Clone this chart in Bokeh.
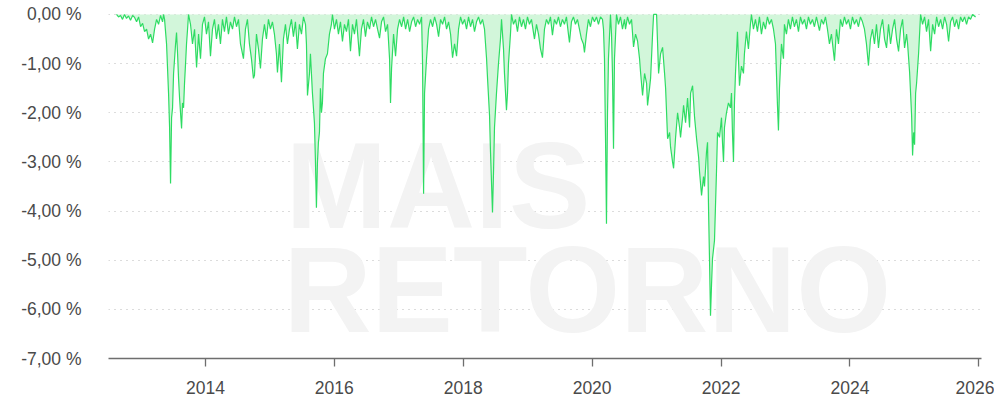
import pandas as pd
from bokeh.plotting import figure
from bokeh.models import Range1d, FixedTicker, CustomJSTickFormatter, ColumnDataSource
from bokeh.core.properties import value
from bokeh.embed import file_html
from bokeh.resources import INLINE

# decimal-year dates and drawdown values (%)
dates = [
    2012.619, 2012.650, 2012.681, 2012.712, 2012.743, 2012.774, 2012.805, 2012.836, 2012.868, 2012.899,
    2012.930, 2012.961, 2012.992, 2013.023, 2013.054, 2013.085, 2013.116, 2013.147, 2013.178, 2013.209,
    2013.240, 2013.271, 2013.302, 2013.333, 2013.348, 2013.364, 2013.395, 2013.426, 2013.442, 2013.457,
    2013.473, 2013.488, 2013.504, 2013.535, 2013.550, 2013.566, 2013.581, 2013.597, 2013.612, 2013.628,
    2013.643, 2013.659, 2013.674, 2013.690, 2013.705, 2013.721, 2013.736, 2013.767, 2013.798, 2013.830,
    2013.861, 2013.892, 2013.922, 2013.953, 2013.984, 2014.015, 2014.046, 2014.077, 2014.108, 2014.139,
    2014.170, 2014.201, 2014.232, 2014.263, 2014.294, 2014.325, 2014.356, 2014.387, 2014.419, 2014.450,
    2014.481, 2014.512, 2014.543, 2014.589, 2014.620, 2014.651, 2014.682, 2014.713, 2014.744, 2014.760,
    2014.791, 2014.822, 2014.853, 2014.884, 2014.915, 2014.946, 2014.977, 2015.008, 2015.039, 2015.070,
    2015.101, 2015.117, 2015.148, 2015.179, 2015.210, 2015.241, 2015.272, 2015.303, 2015.334, 2015.365,
    2015.396, 2015.427, 2015.458, 2015.490, 2015.521, 2015.552, 2015.567, 2015.583, 2015.614, 2015.629,
    2015.660, 2015.691, 2015.707, 2015.722, 2015.738, 2015.753, 2015.769, 2015.784, 2015.800, 2015.815,
    2015.831, 2015.862, 2015.893, 2015.924, 2015.955, 2015.971, 2016.002, 2016.033, 2016.064, 2016.095,
    2016.126, 2016.157, 2016.188, 2016.219, 2016.250, 2016.281, 2016.312, 2016.343, 2016.389, 2016.420,
    2016.451, 2016.482, 2016.513, 2016.545, 2016.576, 2016.607, 2016.638, 2016.669, 2016.700, 2016.731,
    2016.762, 2016.793, 2016.824, 2016.855, 2016.870, 2016.886, 2016.917, 2016.948, 2016.979, 2017.010,
    2017.042, 2017.073, 2017.104, 2017.135, 2017.166, 2017.197, 2017.228, 2017.259, 2017.290, 2017.321,
    2017.352, 2017.367, 2017.383, 2017.398, 2017.429, 2017.460, 2017.491, 2017.523, 2017.554, 2017.585,
    2017.616, 2017.647, 2017.678, 2017.709, 2017.740, 2017.771, 2017.802, 2017.833, 2017.864, 2017.895,
    2017.926, 2017.957, 2017.988, 2018.019, 2018.050, 2018.081, 2018.112, 2018.143, 2018.174, 2018.205,
    2018.236, 2018.267, 2018.298, 2018.329, 2018.360, 2018.376, 2018.407, 2018.422, 2018.453, 2018.469,
    2018.484, 2018.515, 2018.546, 2018.577, 2018.593, 2018.624, 2018.639, 2018.670, 2018.686, 2018.701,
    2018.732, 2018.748, 2018.779, 2018.810, 2018.841, 2018.872, 2018.903, 2018.934, 2018.965, 2018.996,
    2019.027, 2019.058, 2019.105, 2019.136, 2019.167, 2019.198, 2019.229, 2019.260, 2019.291, 2019.322,
    2019.353, 2019.384, 2019.415, 2019.446, 2019.477, 2019.508, 2019.539, 2019.570, 2019.601, 2019.632,
    2019.648, 2019.679, 2019.710, 2019.741, 2019.772, 2019.803, 2019.834, 2019.865, 2019.881, 2019.912,
    2019.943, 2019.974, 2020.005, 2020.036, 2020.067, 2020.098, 2020.129, 2020.160, 2020.176, 2020.191,
    2020.207, 2020.222, 2020.238, 2020.253, 2020.284, 2020.300, 2020.315, 2020.331, 2020.346, 2020.377,
    2020.408, 2020.439, 2020.470, 2020.501, 2020.517, 2020.548, 2020.579, 2020.610, 2020.641, 2020.672,
    2020.703, 2020.734, 2020.750, 2020.781, 2020.812, 2020.843, 2020.858, 2020.889, 2020.905, 2020.936,
    2020.952, 2020.998, 2021.029, 2021.060, 2021.091, 2021.122, 2021.138, 2021.169, 2021.200, 2021.215,
    2021.246, 2021.262, 2021.293, 2021.324, 2021.355, 2021.370, 2021.401, 2021.417, 2021.448, 2021.479,
    2021.510, 2021.526, 2021.557, 2021.588, 2021.619, 2021.650, 2021.665, 2021.696, 2021.727, 2021.742,
    2021.773, 2021.789, 2021.804, 2021.820, 2021.835, 2021.851, 2021.866, 2021.897, 2021.928, 2021.944,
    2021.975, 2022.006, 2022.021, 2022.037, 2022.052, 2022.083, 2022.114, 2022.145, 2022.161, 2022.176,
    2022.192, 2022.207, 2022.223, 2022.254, 2022.269, 2022.285, 2022.316, 2022.347, 2022.362, 2022.393,
    2022.424, 2022.455, 2022.471, 2022.502, 2022.533, 2022.564, 2022.595, 2022.626, 2022.657, 2022.688,
    2022.719, 2022.750, 2022.781, 2022.813, 2022.844, 2022.859, 2022.875, 2022.890, 2022.906, 2022.937,
    2022.968, 2022.983, 2023.014, 2023.045, 2023.076, 2023.107, 2023.138, 2023.169, 2023.201, 2023.232,
    2023.263, 2023.294, 2023.325, 2023.356, 2023.387, 2023.418, 2023.449, 2023.480, 2023.527, 2023.558,
    2023.589, 2023.620, 2023.651, 2023.682, 2023.713, 2023.760, 2023.791, 2023.822, 2023.853, 2023.884,
    2023.915, 2023.946, 2023.977, 2024.008, 2024.039, 2024.070, 2024.101, 2024.132, 2024.163, 2024.194,
    2024.225, 2024.256, 2024.287, 2024.318, 2024.349, 2024.380, 2024.411, 2024.442, 2024.473, 2024.505,
    2024.536, 2024.567, 2024.598, 2024.629, 2024.660, 2024.691, 2024.722, 2024.753, 2024.784, 2024.815,
    2024.846, 2024.877, 2024.893, 2024.924, 2024.955, 2024.970, 2024.986, 2025.001, 2025.017, 2025.032,
    2025.063, 2025.094, 2025.125, 2025.156, 2025.187, 2025.218, 2025.250, 2025.281, 2025.312, 2025.343,
    2025.374, 2025.405, 2025.436, 2025.467, 2025.498, 2025.529, 2025.560, 2025.591, 2025.622, 2025.653,
    2025.684, 2025.715, 2025.746, 2025.777, 2025.808, 2025.839, 2025.870, 2025.901, 2025.948,
]

drawdown = [
    0.00, -0.05, -0.02, -0.10, 0.00, -0.08, -0.03, -0.12, -0.02, -0.06,
    -0.15, -0.05, -0.25, -0.18, -0.35, -0.30, -0.50, -0.40, -0.58, -0.30,
    -0.10, -0.20, -0.02, -0.15, 0.00, -0.10, -0.60, -1.60, -2.30, -3.44,
    -2.10, -1.90, -1.20, -0.60, -0.37, -0.80, -1.30, -1.70, -2.00, -2.32,
    -1.80, -1.90, -1.40, -1.00, -0.60, -0.30, 0.00, -0.20, -0.60, -0.30,
    -1.08, -0.40, -0.90, -0.20, -0.05, -0.40, -0.15, -0.85, -0.30, -0.10,
    -0.50, -0.20, -0.60, -0.10, -0.35, -0.05, -0.40, -0.15, -0.30, -0.05,
    -0.25, -0.10, -0.60, -0.90, -0.30, -0.10, -0.60, -0.90, -1.30, -1.24,
    -0.40, -0.70, -1.10, -0.50, -0.20, -0.50, -0.10, -0.30, -0.15, -0.40,
    -0.80, -1.18, -0.60, -1.38, -0.50, -0.20, -0.60, -0.30, -0.10, -0.45,
    -0.15, -0.70, -0.20, -0.40, -0.05, -0.20, -0.60, -1.65, -1.20, -0.80,
    -1.60, -2.20, -3.00, -3.93, -3.00, -2.60, -2.40, -1.50, -2.00, -1.80,
    -1.20, -0.90, -0.80, -0.40, -0.20, 0.00, -0.30, -0.10, -0.40, -0.15,
    -0.55, -0.20, -0.35, -0.10, -0.75, -0.20, -0.40, -0.10, -0.85, -0.30,
    -0.10, -0.45, -0.15, -0.30, -0.05, -0.25, -0.10, -0.30, -0.48, -0.15,
    -0.05, -0.35, -0.20, -0.90, -1.80, -1.10, -0.40, -0.85, -0.30, -0.10,
    -0.25, -0.05, -0.30, -0.10, -0.35, -0.15, -0.05, -0.25, -0.10, -0.20,
    -0.05, -1.00, -3.65, -1.60, -0.90, -0.30, -0.10, -0.25, -0.05, -0.20,
    -0.45, -0.10, -0.20, -0.05, -0.30, -0.15, -0.40, -0.88, -0.60, -0.85,
    -0.30, -0.05, -0.20, -0.10, -0.30, -0.05, -0.25, -0.10, -0.35, -0.15,
    -0.05, -0.20, -0.10, -0.30, -0.88, -1.30, -2.05, -2.80, -4.03, -3.20,
    -2.30, -1.60, -1.00, -0.50, -0.10, -0.70, -1.20, -1.95, -1.60, -1.00,
    -0.40, 0.00, -0.20, -0.10, -0.35, -0.05, -0.25, -0.10, -0.30, -0.05,
    -0.20, -0.10, -0.50, -0.20, -0.40, -0.70, -0.88, -0.30, -0.10, -0.20,
    -0.05, -0.42, -0.10, -0.20, -0.05, -0.25, -0.10, -0.20, -0.05, -0.40,
    -0.57, -0.15, -0.05, -0.20, -0.10, -0.30, -0.50, -0.60, -0.77, -0.40,
    -0.10, -0.25, -0.05, -0.15, -0.05, -0.20, -0.05, -0.10, -0.30, -0.90,
    -2.50, -4.26, -2.00, -0.90, 0.00, -0.40, -1.20, -2.73, -0.90, 0.00,
    -0.20, -0.05, -0.30, -0.10, -0.30, -0.05, -0.20, -0.10, -0.66, -0.40,
    -0.54, -0.90, -1.18, -1.65, -1.20, -1.40, -1.85, -1.50, -1.30, -0.40,
    0.00, 0.00, -1.20, -0.80, -0.67, -1.20, -1.50, -2.53, -2.40, -2.70,
    -3.00, -3.13, -2.50, -2.00, -2.30, -2.50, -2.10, -1.85, -2.20, -1.70,
    -2.30, -1.60, -1.45, -2.10, -2.53, -2.90, -3.20, -3.68, -3.30, -3.50,
    -2.80, -2.60, -3.90, -5.00, -6.13, -5.50, -4.97, -4.60, -3.20, -2.40,
    -2.50, -2.10, -2.60, -3.00, -2.30, -2.00, -1.80, -1.90, -1.60, -2.40,
    -3.00, -1.80, -1.20, -0.35, -0.90, -1.45, -1.05, -1.20, -0.80, -0.35,
    -0.70, -0.20, 0.00, -0.30, -0.10, -0.35, -0.05, -0.40, -0.15, -0.30,
    -0.05, -0.20, -0.10, -0.30, -0.60, -1.20, -1.85, -2.36, -1.50, -0.60,
    -0.90, -0.20, -0.40, -0.10, -0.30, -0.05, -0.25, -0.10, -0.35, -0.05,
    -0.20, -0.10, -0.30, -0.05, -0.20, -0.10, -0.25, -0.05, -0.33, -0.10,
    -0.20, -0.05, -0.30, -0.60, -0.40, -0.94, -0.30, -0.60, -0.10, -0.25,
    -0.05, -0.20, -0.10, -0.30, -0.05, -0.20, -0.10, -0.25, -0.05, -0.15,
    -0.30, -0.60, -1.04, -0.50, -0.30, -0.60, -0.20, -0.68, -0.30, -0.10,
    -0.50, -0.68, -0.20, -0.60, -0.30, -0.10, -0.50, -0.75, -0.30, -0.10,
    -0.68, -0.40, -0.60, -1.18, -2.06, -2.87, -2.40, -2.65, -1.60, -1.40,
    -0.80, 0.00, -0.20, -0.05, -0.35, -0.10, -0.75, -0.20, -0.40, -0.05,
    -0.25, -0.10, -0.30, -0.05, -0.20, -0.55, -0.15, -0.05, -0.25, -0.10,
    -0.30, -0.05, -0.15, -0.05, -0.20, -0.05, -0.10, 0.00, -0.05,
]

y_ticks = [0, -1, -2, -3, -4, -5, -6, -7]
x_tick_years = [2014, 2016, 2018, 2020, 2022, 2024, 2026]


def to_dt(y):
    yr = int(y)
    start = pd.Timestamp(year=yr, month=1, day=1)
    end = pd.Timestamp(year=yr + 1, month=1, day=1)
    return start + (end - start) * (y - yr)


n = min(len(dates), len(drawdown))
src = ColumnDataSource(dict(
    x=[to_dt(d) for d in dates[:n]],
    y=drawdown[:n],
    zero=[0.0] * n,
))

p = figure(
    width=994, height=400,
    x_axis_type="datetime",
    x_range=Range1d(to_dt(2012.495), to_dt(2026.040)),
    y_range=Range1d(-7.0, 0.04),
    output_backend="svg", toolbar_location=None,
    min_border_left=108, min_border_right=13, min_border_top=12, min_border_bottom=42,
)
p.outline_line_color = None
p.background_fill_color = "white"
p.border_fill_color = "white"

# watermark
wm_color = "#f3f3f3"
p.text(x=[to_dt(2015.240)], y=[-3.50], text=["MAIS"], text_font=value("Liberation Sans"),
       text_font_style="bold", text_font_size="122px", text_color=wm_color,
       text_baseline="alphabetic", text_align="left")
p.text(x=[to_dt(2015.210)], y=[-5.60], text=["RETORNO"], text_font=value("Liberation Sans"),
       text_font_style="bold", text_font_size="122px", text_color=wm_color,
       text_baseline="alphabetic", text_align="left")

p.varea(x="x", y1="zero", y2="y", source=src, fill_color="#d2f6da", fill_alpha=1.0)
p.line(x="x", y="y", source=src, line_color="#2edc63", line_width=1.2)

# axes
xt = FixedTicker(ticks=[pd.Timestamp(year=y, month=1, day=1).value / 1e6 for y in x_tick_years])
p.xaxis.ticker = xt
p.xaxis.formatter = CustomJSTickFormatter(code="return String(new Date(tick).getUTCFullYear());")
p.xaxis.axis_line_color = "#6e6e6e"
p.xaxis.axis_line_width = 1.3
p.xaxis.major_tick_line_color = "#6e6e6e"
p.xaxis.major_tick_line_width = 1.3
p.xaxis.major_tick_out = 8
p.xaxis.major_tick_in = 0
p.xaxis.minor_tick_line_color = None
p.xaxis.major_label_standoff = 14

yt = FixedTicker(ticks=y_ticks)
p.yaxis.ticker = yt
p.yaxis.formatter = CustomJSTickFormatter(
    code="return tick.toFixed(2).replace('.', ',') + ' %';")
p.yaxis.axis_line_color = None
p.yaxis.major_tick_line_color = None
p.yaxis.minor_tick_line_color = None
p.yaxis.major_label_standoff = 21

for ax in (p.xaxis, p.yaxis):
    ax.major_label_text_font = "Liberation Sans"
    ax.major_label_text_font_size = "17.5px"
    ax.major_label_text_color = "#4a4a4a"

p.xgrid.visible = False
p.ygrid.ticker = yt
p.ygrid.grid_line_color = "#b8b8b8"
p.ygrid.grid_line_dash = "1 5"
p.ygrid.grid_line_width = 1.2

open("out.html", "w").write(file_html(p, INLINE))
